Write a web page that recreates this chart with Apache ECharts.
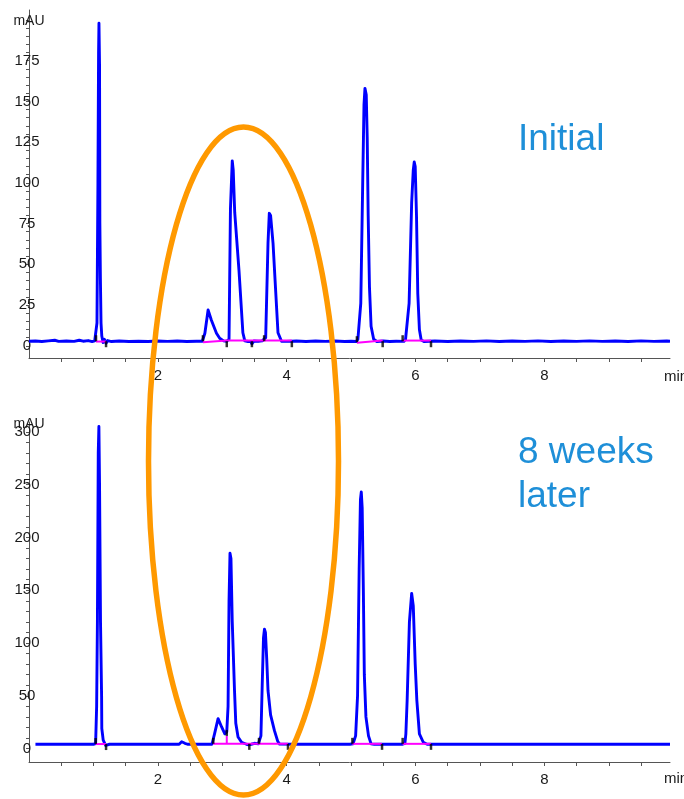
<!DOCTYPE html>
<html>
<head>
<meta charset="utf-8">
<script src="https://cdn.jsdelivr.net/npm/echarts@6/dist/echarts.min.js"></script>
<style>
  html, body { margin: 0; padding: 0; background: #ffffff; }
  #chart { width: 684px; height: 799px; }
</style>
</head>
<body>
<div id="chart"></div>
<script>
// Chromatograms: retention time (min) vs absorbance (mAU)

// Initial injection trace [time, mAU]
const initialTrace = [
  [0.00,2.8],[0.10,2.9],[0.20,2.6],[0.30,3.0],[0.40,3.4],[0.46,2.7],[0.58,2.9],[0.70,2.7],[0.78,3.4],[0.84,2.8],[0.92,3.2],[0.98,2.6],[1.02,3.0],
  [1.04,3.6],[1.055,14],[1.07,100],[1.08,180],[1.086,198],[1.095,172],[1.10,75],[1.108,42],[1.118,14],[1.13,6],[1.15,2.0],[1.17,4.0],[1.196,1.6],[1.22,3.2],[1.28,2.6],
  [1.40,2.9],[1.55,2.6],[1.70,2.8],[1.85,2.6],[2.00,2.9],[2.15,2.7],[2.30,2.9],[2.45,2.6],[2.60,2.8],[2.69,2.8],
  [2.73,7.7],[2.78,22],[2.83,15.8],[2.91,7.7],[2.96,4.6],[3.02,3.0],[3.07,2.8],
  [3.105,4],[3.127,84],[3.155,113.5],[3.17,108],[3.193,82],[3.26,46],[3.32,8],[3.35,3],[3.40,2.6],[3.44,2.7],[3.46,1.2],[3.49,2.9],[3.56,2.8],[3.62,3.0],[3.65,3.4],
  [3.674,5],[3.71,63],[3.73,81.3],[3.75,80],[3.788,63],[3.82,40],[3.865,8],[3.92,2.8],
  [4.00,2.7],[4.15,2.9],[4.30,2.6],[4.45,2.9],[4.60,2.7],[4.75,2.9],[4.90,2.6],[5.00,2.8],[5.08,2.6],
  [5.105,4],[5.15,26],[5.18,100],[5.20,148],[5.215,158],[5.235,154],[5.25,128],[5.265,80],[5.285,36],[5.31,12],[5.35,4],[5.40,2.6],
  [5.50,2.9],[5.60,2.6],[5.70,2.8],[5.82,2.7],
  [5.845,4],[5.90,26],[5.94,88],[5.965,108],[5.98,112.8],[5.995,110],[6.015,80],[6.035,32],[6.06,10],[6.088,3.5],[6.13,2.6],
  [6.30,2.9],[6.50,2.6],[6.70,2.9],[6.90,2.7],[7.10,3.0],[7.30,2.6],[7.50,2.9],[7.70,2.7],[7.90,3.0],[8.10,2.6],
  [8.30,2.9],[8.50,2.7],[8.70,3.0],[8.90,2.7],[9.10,2.9],[9.30,2.6],[9.50,3.0],[9.70,2.7],[9.90,2.9],[9.95,2.8]
];

// Same sample after 8 weeks [time, mAU]
const laterTrace = [
  [0.10,4.1],[0.50,4.1],[0.90,4.1],[1.00,4.1],
  [1.034,4.7],[1.05,40],[1.062,120],[1.075,280],[1.085,305],[1.095,250],[1.11,120],[1.127,49],[1.13,19],[1.152,8],[1.19,3],[1.21,4.6],[1.25,4.1],
  [1.60,4.1],[2.00,4.1],[2.33,4.1],[2.37,6.5],[2.39,8.3],[2.42,5],[2.46,4.1],[2.70,4.1],[2.84,4.1],
  [2.857,5],[2.88,14],[2.935,28.4],[2.99,20.5],[3.04,14],[3.07,16],[3.09,40],[3.105,140],[3.12,185],[3.135,180],[3.155,120],[3.19,55],[3.21,24],[3.245,11],[3.30,6],[3.375,4.1],
  [3.41,3.6],[3.45,4.1],[3.50,5],[3.53,6.5],[3.56,4.5],[3.58,4.3],
  [3.60,12],[3.62,60],[3.64,105],[3.655,113],[3.67,110],[3.69,85],[3.71,55],[3.75,32],[3.81,17],[3.86,7],[3.89,4.2],
  [4.20,4.1],[4.60,4.1],[4.98,4.1],
  [5.03,4.6],[5.07,12],[5.10,50],[5.125,170],[5.145,236],[5.158,243],[5.172,228],[5.19,150],[5.205,70],[5.23,30],[5.27,12],[5.31,4.5],[5.36,4.1],
  [5.60,4.1],[5.80,4.1],
  [5.835,5],[5.85,14],[5.87,46],[5.905,120],[5.94,147],[5.965,135],[5.995,80],[6.02,46],[6.06,14],[6.12,6],[6.18,4.1],
  [7.00,4.1],[8.00,4.1],[9.00,4.1],[9.95,4.1]
];

// Integration baselines (each a polyline of [time, mAU])
const initialBaselines = [
  [[1.04,2.6],[1.196,2.6]],
  [[2.70,2.2],[3.07,3.2],[4.08,3.2]],
  [[5.09,1.8],[5.49,3.2]],
  [[5.80,3.2],[6.24,3.2]]
];
const laterBaselines = [
  [[1.035,4.3],[1.196,4.3]],
  [[2.86,4.5],[4.02,4.5]],
  [[3.07,4.5],[3.07,12]],
  [[5.02,4.5],[5.48,4.5]],
  [[5.80,4.5],[6.24,4.5]]
];

// Peak start/end event marks [time, mAU, direction: 1 above, -1 below]
const initialEvents = [
  [1.04,2.8,1],[1.196,2.8,-1],[2.70,2.8,1],[3.07,2.8,-1],[3.46,2.8,-1],[3.65,2.8,1],[4.08,2.8,-1],
  [5.09,2.2,1],[5.49,2.8,-1],[5.80,2.8,1],[6.24,2.8,-1]
];
const laterEvents = [
  [1.035,4.3,1],[1.196,4.3,-1],[2.86,4.5,1],[3.07,12,1],[3.42,4.5,-1],[3.57,4.5,1],[4.02,4.5,-1],
  [5.02,4.5,1],[5.48,4.5,-1],[5.80,4.5,1],[6.24,4.5,-1]
];

// Axis labels and ticks
const timeLabels = [2, 4, 6, 8];
const timeTicks = [0.5, 1, 1.5, 2, 2.5, 3, 3.5, 4, 4.5, 5, 5.5, 6, 6.5, 7, 7.5, 8, 8.5, 9, 9.5];
const initialLabels = [0, 25, 50, 75, 100, 125, 150, 175];
const initialTicks = [0,5,10,15,20,25,30,35,40,45,50,55,60,65,70,75,80,85,90,95,100,105,110,115,120,125,130,135,140,145,150,155,160,165,170,175,180,185,190,195,200];
const laterLabels = [0, 50, 100, 150, 200, 250, 300];
const laterTicks = [0,10,20,30,40,50,60,70,80,90,100,110,120,130,140,150,160,170,180,190,200,210,220,230,240,250,260,270,280,290,300];

const FONT = "'Liberation Sans', Arial, sans-serif";
const AXIS_COLOR = '#555555';
const TEXT_COLOR = '#1a1a1a';
const TRACE_COLOR = '#0000FF';
const TITLE_COLOR = '#1E8FD8';

function xAxisFor(gridIndex) {
  return {
    type: 'value', gridIndex: gridIndex, min: 0, max: 9.95,
    axisLine: { show: true, onZero: false, lineStyle: { color: AXIS_COLOR, width: 1 } },
    axisTick: { show: true, length: 4, customValues: timeTicks, lineStyle: { color: AXIS_COLOR } },
    axisLabel: { customValues: timeLabels, color: TEXT_COLOR, fontSize: 15, fontFamily: FONT, margin: 10 },
    splitLine: { show: false }
  };
}
function yAxisFor(gridIndex, min, max, labels, ticks) {
  return {
    type: 'value', gridIndex: gridIndex, min: min, max: max,
    axisLine: { show: true, onZero: false, lineStyle: { color: AXIS_COLOR, width: 1 } },
    axisTick: { show: true, length: 3, customValues: ticks, lineStyle: { color: AXIS_COLOR } },
    axisLabel: { customValues: labels, color: TEXT_COLOR, fontSize: 15, fontFamily: FONT, align: 'center', margin: 2 },
    splitLine: { show: false }
  };
}

function traceSeries(data, idx) {
  return {
    type: 'line', xAxisIndex: idx, yAxisIndex: idx, data: data,
    showSymbol: false, smooth: false, z: 2,
    lineStyle: { color: TRACE_COLOR, width: 2.9, join: 'round' }
  };
}
function baselineSeries(segments, idx) {
  return segments.map(seg => ({
    type: 'line', xAxisIndex: idx, yAxisIndex: idx, data: seg,
    showSymbol: false, z: 3,
    lineStyle: { color: '#FF00FF', width: 2 }
  }));
}
function eventSeries(events, idx) {
  return {
    type: 'scatter', xAxisIndex: idx, yAxisIndex: idx, z: 4,
    symbol: 'rect', symbolSize: [2.5, 6],
    itemStyle: { color: '#000000' },
    data: events.map(e => ({ value: [e[0], e[1]], symbolOffset: [0, e[2] > 0 ? -3 : 3] }))
  };
}

const chart = echarts.init(document.getElementById('chart'), null, { renderer: 'canvas' });

const option = {
  animation: false,
  backgroundColor: '#ffffff',
  grid: [
    { left: 29, right: 14, top: 10, height: 348 },
    { left: 29, right: 14, top: 422, height: 340 }
  ],
  xAxis: [xAxisFor(0), xAxisFor(1)],
  yAxis: [
    yAxisFor(0, -7.5, 206.1, initialLabels, initialTicks),
    yAxisFor(1, -12.7, 309.3, laterLabels, laterTicks)
  ],
  series: [
    traceSeries(initialTrace, 0),
    ...baselineSeries(initialBaselines, 0),
    eventSeries(initialEvents, 0),
    traceSeries(laterTrace, 1),
    ...baselineSeries(laterBaselines, 1),
    eventSeries(laterEvents, 1)
  ],
  graphic: [
    { type: 'text', x: 29, y: 21, z: 10,
      style: { text: 'mAU', fontSize: 14, fontFamily: FONT, fill: TEXT_COLOR, align: 'center', verticalAlign: 'middle' } },
    { type: 'text', x: 29, y: 424, z: 10,
      style: { text: 'mAU', fontSize: 14, fontFamily: FONT, fill: TEXT_COLOR, align: 'center', verticalAlign: 'middle' } },
    { type: 'text', x: 664, y: 377, z: 10,
      style: { text: 'min', fontSize: 15, fontFamily: FONT, fill: TEXT_COLOR, align: 'left', verticalAlign: 'middle' } },
    { type: 'text', x: 664, y: 779, z: 10,
      style: { text: 'min', fontSize: 15, fontFamily: FONT, fill: TEXT_COLOR, align: 'left', verticalAlign: 'middle' } },
    { type: 'text', x: 518, y: 140, z: 10,
      style: { text: 'Initial', fontSize: 37, fontFamily: FONT, fill: TITLE_COLOR, align: 'left', verticalAlign: 'middle' } },
    { type: 'text', x: 518, y: 453, z: 10,
      style: { text: '8 weeks', fontSize: 37, fontFamily: FONT, fill: TITLE_COLOR, align: 'left', verticalAlign: 'middle' } },
    { type: 'text', x: 518, y: 497, z: 10,
      style: { text: 'later', fontSize: 37, fontFamily: FONT, fill: TITLE_COLOR, align: 'left', verticalAlign: 'middle' } },
    // Highlight around the 2.5–4 min region
    { type: 'ellipse', z: 20,
      shape: { cx: 243.5, cy: 461, rx: 95, ry: 334 },
      style: { fill: 'none', stroke: '#FF9900', lineWidth: 5.5 } }
  ]
};

chart.setOption(option);
</script>
</body>
</html>
